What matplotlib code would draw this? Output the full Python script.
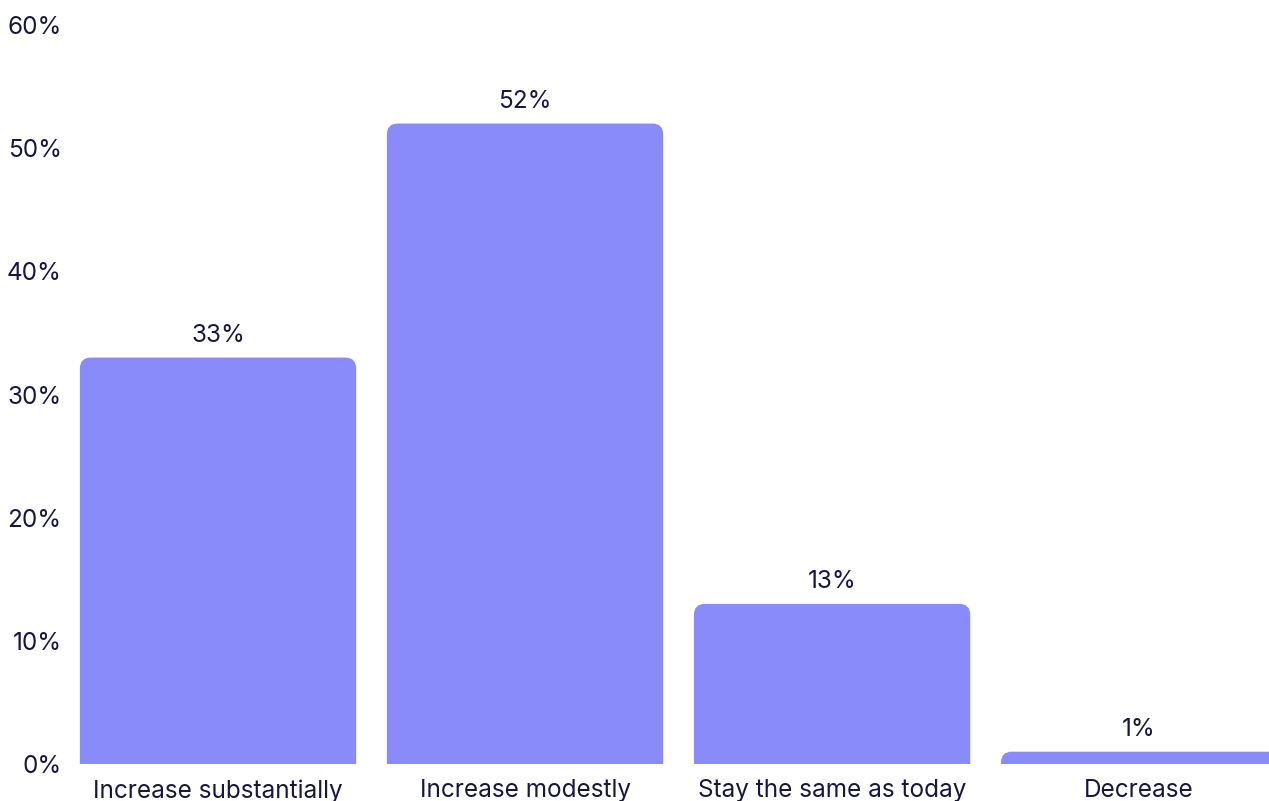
import matplotlib
matplotlib.use("Agg")
import matplotlib.pyplot as plt
from matplotlib.path import Path
from matplotlib.patches import PathPatch

categories = ["Increase substantially", "Increase modestly", "Stay the same as today", "Decrease"]
values = [33, 52, 13, 1]
y_ticks = [0, 10, 20, 30, 40, 50, 60]

BAR_COLOR = "#8a8bfa"
TEXT_COLOR = "#17163f"

plt.rcParams["font.family"] = ["Inter", "DejaVu Sans"]


def rounded_top_bar(ax, x, width, height, radius_px):
    # rounded corners at the top only, radius given in pixels
    bbox = ax.get_window_extent()
    x0, x1 = ax.get_xlim()
    y0, y1 = ax.get_ylim()
    rx = radius_px * (x1 - x0) / bbox.width
    ry = radius_px * (y1 - y0) / bbox.height
    ry = min(ry, height)
    left, right = x - width / 2, x + width / 2
    verts = [
        (left, 0), (left, height - ry),
        (left, height), (left + rx, height),
        (right - rx, height),
        (right, height), (right, height - ry),
        (right, 0), (left, 0),
    ]
    codes = [Path.MOVETO, Path.LINETO,
             Path.CURVE3, Path.CURVE3,
             Path.LINETO,
             Path.CURVE3, Path.CURVE3,
             Path.LINETO, Path.CLOSEPOLY]
    patch = PathPatch(Path(verts, codes), facecolor=BAR_COLOR, edgecolor="none", clip_on=True)
    ax.add_patch(patch)


fig = plt.figure(figsize=(12.69, 8.01), dpi=100)
# 0 at y=764 px, 60 at y=25 px
ax = fig.add_axes([64.5 / 1269, 37 / 801, (1269 - 64.5) / 1269, 739 / 801])
ax.set_xlim(-0.5, 3.423)
ax.set_ylim(0, 60)

xs = list(range(len(categories)))
for x, v in zip(xs, values):
    rounded_top_bar(ax, x, 0.9, v, 11)
    ax.annotate(f"{v}%", (x, v), xytext=(0, 7.5), textcoords="offset points",
                ha="center", va="bottom", fontsize=17.5, color=TEXT_COLOR)

ax.set_yticks(y_ticks)
ax.set_yticklabels([f"{t}%" for t in y_ticks])
ax.set_xticks(xs)
ax.set_xticklabels(categories)
ax.tick_params(axis="both", length=0, labelsize=17.5, labelcolor=TEXT_COLOR)
ax.tick_params(axis="x", pad=11)
ax.tick_params(axis="y", pad=2)
for s in ax.spines.values():
    s.set_visible(False)

fig.savefig("out.png", dpi=100)
